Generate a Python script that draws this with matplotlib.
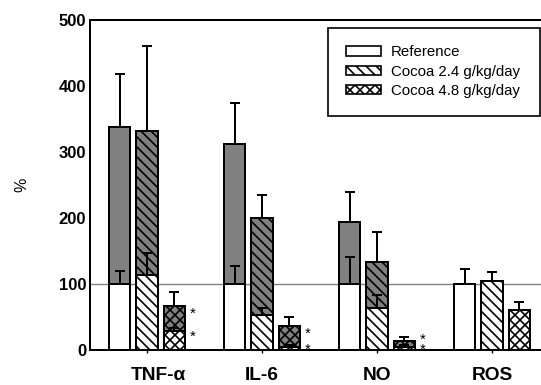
import matplotlib
matplotlib.use('Agg')
import matplotlib.pyplot as plt
import matplotlib.transforms as mtransforms
from matplotlib.patches import Patch, Rectangle
from matplotlib.font_manager import FontProperties
import numpy as np

# Categories and series
categories = ['TNF-\u03b1', 'IL-6', 'NO', 'ROS']
series = ['Reference', 'Cocoa 2.4 g/kg/day', 'Cocoa 4.8 g/kg/day']
hatches = ['', '\\\\\\\\', 'xxxx']

# grey (stimulated) bars: mean and upper error, per series (ROS has none)
stim_ref = [338, 312, 194, 0]
stim_ref_err = [80, 62, 45, 0]
stim_c24 = [331, 199, 133, 0]
stim_c24_err = [129, 36, 45, 0]
stim_c48 = [67, 36, 13, 0]
stim_c48_err = [20, 14, 7, 0]

# white (basal) bars: mean and upper error
basal_ref = [100, 100, 100, 100]
basal_ref_err = [20, 27, 40, 22]
basal_c24 = [114, 53, 64, 105]
basal_c24_err = [32, 11, 19, 13]
basal_c48 = [28, 5, 5, 61]
basal_c48_err = [6, 3, 3, 11]

# significance marks for the 4.8 g/kg/day group
sig_c48 = [True, True, True, False]

stim = [stim_ref, stim_c24, stim_c48]
stim_err = [stim_ref_err, stim_c24_err, stim_c48_err]
basal = [basal_ref, basal_c24, basal_c48]
basal_err = [basal_ref_err, basal_c24_err, basal_c48_err]

plt.rcParams['font.family'] = ['Liberation Sans', 'DejaVu Sans']
plt.rcParams['hatch.linewidth'] = 1.0

fig = plt.figure(figsize=(541 / 120, 385 / 120), dpi=120)
ax = fig.add_axes([90 / 541, 1 - 350 / 385, 1 - 90 / 541, (350 - 19.5) / 385])

x = np.arange(len(categories))
step = 0.235
width = 0.183
lw = 1.2

ax.axhline(100, color='#7f7f7f', lw=0.8, zorder=1)

for i in range(len(series)):
    xi = x + (i - 1) * step
    s = np.array(stim[i], dtype=float)
    has = s > 0
    ax.bar(xi[has], s[has], width, color='#808080', edgecolor='black',
           hatch=hatches[i], linewidth=lw, zorder=2)
    ax.bar(xi, basal[i], width, color='white', edgecolor='black',
           hatch=hatches[i], linewidth=lw, zorder=3)
    se = np.array(stim_err[i], dtype=float)
    ax.errorbar(xi[has], s[has], yerr=[np.zeros(has.sum()), se[has]], fmt='none',
                ecolor='black', elinewidth=lw, capsize=3.2, capthick=lw, zorder=4)
    ax.errorbar(xi, basal[i], yerr=[np.zeros(len(xi)), basal_err[i]], fmt='none',
                ecolor='black', elinewidth=lw, capsize=3.2, capthick=lw, zorder=4)

ax.set_xlim(-57 / 115, (541 - 147) / 115)
ax.set_ylim(0, 500)

# asterisks next to the 4.8 g/kg/day bars (one two-line text per group)
star_fs = 9
renderer = fig.canvas.get_renderer()
_, lp_h, lp_d = renderer.get_text_width_height_descent('lp', FontProperties(size=star_fs), ismath=False)
for j, flag in enumerate(sig_c48):
    if not flag:
        continue
    xs = x[j] + step + width / 2 + 0.07
    y_low = max(basal_c48[j] + 2, 11)
    y_up = max(stim_c48[j] - 1, y_low + 15)
    sep = ax.transData.transform((0, y_up))[1] - ax.transData.transform((0, y_low))[1]
    ax.text(xs, y_up, '*\n*', ha='center', va='top', fontsize=star_fs,
            linespacing=(sep - lp_d) / (lp_h - lp_d), zorder=5)

ax.set_yticks([0, 100, 200, 300, 400, 500])
ax.set_xticks(x)
ax.set_xticklabels(categories, fontsize=11.5, fontweight='bold')
for lab in ax.get_yticklabels():
    lab.set_fontweight('bold')
    lab.set_fontsize(10)
ax.tick_params(axis='y', length=0, pad=2.4)
ax.tick_params(axis='x', length=2, width=0.8, direction='out', pad=8.5)

# the first category label sits a little right of its tick
first = ax.get_xticklabels()[0]
first.set_transform(first.get_transform() + mtransforms.ScaledTranslation(11 / 120, 0, fig.dpi_scale_trans))

ax.spines['right'].set_visible(False)
for sp in ['left', 'bottom', 'top']:
    ax.spines[sp].set_linewidth(1.2)

ax.set_ylabel('%', fontsize=9.6, va='center')
ax.yaxis.set_label_coords(-0.151, 0.5)

# legend: frame drawn separately (it is taller than its content)
ax.add_patch(Rectangle((0.5277, 0.708), 0.9978 - 0.5277, 0.9734 - 0.708, transform=ax.transAxes,
                       facecolor='white', edgecolor='black', linewidth=1.0, zorder=6, clip_on=False))
handles = [Patch(facecolor='white', edgecolor='black', hatch=h, linewidth=1.0, label=s)
           for s, h in zip(series, hatches)]
leg = ax.legend(handles=handles, loc='center', bbox_to_anchor=(0.7605, 0.842),
                borderaxespad=0, borderpad=0, fontsize=9, handlelength=2.33, handleheight=0.55,
                handletextpad=0.67, labelspacing=0.36, frameon=False)
leg.set_zorder(7)

plt.savefig('out.png', dpi=120)
